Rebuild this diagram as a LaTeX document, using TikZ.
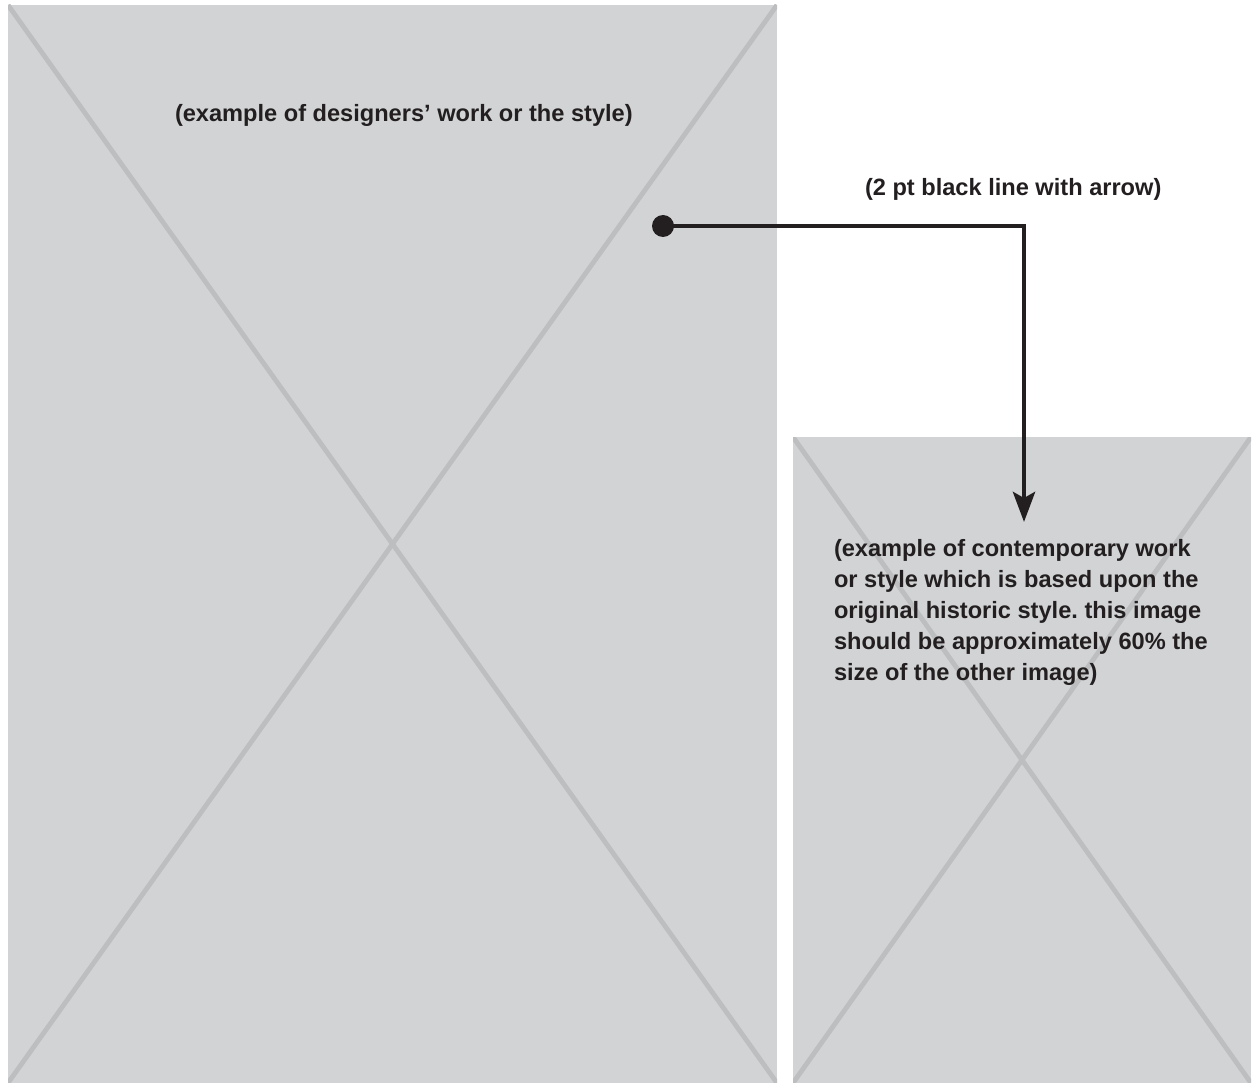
\documentclass[tikz,border=0pt]{standalone}
\usepackage{fontspec}
\setmainfont{Liberation Sans}
\usetikzlibrary{arrows.meta}
\definecolor{boxfill}{HTML}{D1D3D4}
\definecolor{crossline}{HTML}{BCBEC0}
\definecolor{inkblack}{HTML}{231F20}
\frenchspacing
\begin{document}
\begin{tikzpicture}[x=1pt,y=-1pt,
  imgbox/.style={draw=none, fill=boxfill, inner sep=0, outer sep=0, anchor=north west},
  cross/.style={draw=crossline, line width=4.8pt},
  label/.style={inner sep=0, outer sep=0, text=inkblack, font=\fontsize{23.6}{31}\selectfont\bfseries},
  pointer/.style={draw=inkblack, line width=4.8pt, -{Stealth[length=30pt, width=22pt, inset=6pt]}},
  dotmark/.style={circle, fill=inkblack, inner sep=0, minimum size=22pt}]
\useasboundingbox (0,0) rectangle (1252,1083);
\node[imgbox, minimum width=769pt, minimum height=1078pt] (big) at (8,5) {};
\node[imgbox, minimum width=458pt, minimum height=646pt] (small) at (793,437) {};
\begin{scope}
  \clip (big.north west) rectangle (big.south east);
  \draw[cross] (big.north west) -- (big.south east);
  \draw[cross] (big.north east) -- (big.south west);
\end{scope}
\begin{scope}
  \clip (small.north west) rectangle (small.south east);
  \draw[cross] (small.north west) -- (small.south east);
  \draw[cross] (small.north east) -- (small.south west);
\end{scope}
\node[label, anchor=base west] (t1) at (175,122) {(example of designers’ work or the style)};
\node[label, anchor=base west] (t2) at (865,196) {(2 pt black line with arrow)};
\node[label, anchor=north west, align=left] (t3) at (834,539) {(example of contemporary work\\or style which is based upon the\\original historic style. this image\\should be approximately 60\% the\\size of the other image)};
\node[dotmark] (dot) at (663,226) {};
\coordinate (bend) at (1024,226);
\coordinate (tip) at (1024,522);
\draw[pointer] (dot.center) -- (bend) -- (tip);
\end{tikzpicture}
\end{document}
